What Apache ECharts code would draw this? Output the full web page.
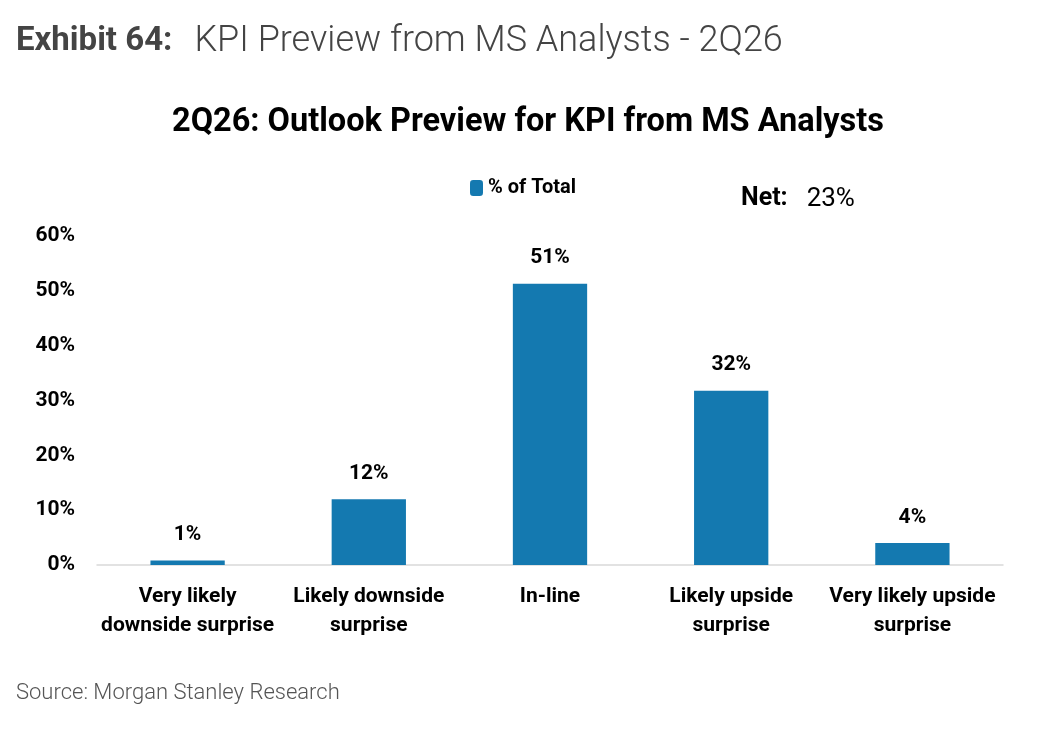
<!DOCTYPE html>
<html><head><meta charset="utf-8">
<script src="https://cdn.jsdelivr.net/npm/echarts@6/dist/echarts.min.js"></script>
<style>html,body{margin:0;padding:0;background:#fff}#c{width:1056px;height:731px}</style>
</head><body><div id="c"></div>
<script>
const categories = ['Very likely\ndownside surprise', 'Likely downside\nsurprise', 'In-line', 'Likely upside\nsurprise', 'Very likely upside\nsurprise'];
const values = [0.8, 12, 51.3, 31.8, 4];
const valueLabels = ['1%', '12%', '51%', '32%', '4%'];
const yTicks = [0, 10, 20, 30, 40, 50, 60];
const seriesName = '% of Total';
const netValue = '23%';

const chart = echarts.init(document.getElementById('c'));
const F = 'Roboto';
chart.setOption({
  animation: false,
  textStyle: { fontFamily: F },
  title: [
    { left: 11, top: 19, text: '{b|Exhibit 64:}{l|KPI Preview from MS Analysts - 2Q26}',
      textStyle: { rich: {
        b: { fontFamily: F, fontSize: 33, fontWeight: 'bold', color: '#444444', padding: [0, 22, 0, 0] },
        l: { fontFamily: F, fontSize: 36, fontWeight: 300, color: '#444444' } } } },
    { left: 'center', top: 101, text: '2Q26: Outlook Preview for KPI from MS Analysts',
      textStyle: { fontFamily: F, fontSize: 32.5, fontWeight: 'bold', color: '#000' } },
    { left: 736, top: 181, text: '{b|Net:}{r|' + netValue + '}',
      textStyle: { rich: {
        b: { fontFamily: F, fontSize: 25, fontWeight: 'bold', color: '#000', padding: [0, 19, 0, 0] },
        r: { fontFamily: F, fontSize: 26, fontWeight: 400, color: '#000' } } } },
    { left: 11, top: 677, text: 'Source: Morgan Stanley Research',
      textStyle: { fontFamily: F, fontSize: 22, fontWeight: 300, color: '#555555' } }
  ],
  legend: {
    top: 173, left: 465, itemWidth: 13, itemHeight: 16, itemGap: 6,
    data: [seriesName],
    textStyle: { fontFamily: F, fontSize: 20, fontWeight: 'bold', color: '#000' }
  },
  grid: { left: 97, right: 53, top: 236, bottom: 166, containLabel: false },
  xAxis: {
    type: 'category', data: categories,
    axisLine: { lineStyle: { color: '#D9D9D9', width: 1.5 } },
    axisTick: { show: false },
    axisLabel: { interval: 0, margin: 17, fontFamily: F, fontSize: 21, fontWeight: 'bold', color: '#000', lineHeight: 29 }
  },
  yAxis: {
    type: 'value', min: 0, max: 60, interval: 10,
    splitLine: { show: false },
    axisLine: { show: false }, axisTick: { show: false },
    axisLabel: { margin: 22, fontFamily: F, fontSize: 21, fontWeight: 'bold', color: '#000',
      formatter: v => yTicks.includes(v) ? v + '%' : '' }
  },
  series: [{
    name: seriesName, type: 'bar', data: values, barWidth: '41%',
    itemStyle: { color: '#1479B0' },
    label: { show: true, position: 'top', distance: 15, fontFamily: F, fontSize: 21, fontWeight: 'bold', color: '#000',
      formatter: p => valueLabels[p.dataIndex] }
  }]
});
</script></body></html>
